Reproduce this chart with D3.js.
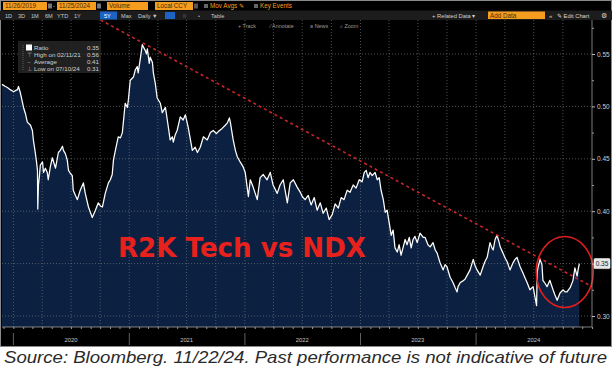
<!DOCTYPE html>
<html><head><meta charset="utf-8">
<script src="https://cdn.jsdelivr.net/npm/d3@7"></script>
<style>html,body{margin:0;padding:0;background:#fff;overflow:hidden}svg{display:block}</style>
</head><body>
<script>
// ---------- data ----------
const dates = [
"2019-11-26","2019-12-07","2019-12-13","2019-12-22","2020-01-02","2020-01-07","2020-01-14","2020-01-17","2020-01-23","2020-02-02",
"2020-02-08","2020-02-14","2020-02-24","2020-03-01","2020-03-04","2020-03-10","2020-03-14","2020-03-17","2020-03-18","2020-03-20",
"2020-03-23","2020-03-26","2020-04-02","2020-04-05","2020-04-11","2020-04-17","2020-04-20","2020-04-27","2020-05-03","2020-05-13",
"2020-05-22","2020-05-28","2020-06-04","2020-06-07","2020-06-13","2020-06-19","2020-06-23","2020-06-29","2020-07-05","2020-07-08",
"2020-07-15","2020-07-21","2020-07-30","2020-08-09","2020-08-15","2020-08-25","2020-08-31","2020-09-06","2020-09-16","2020-09-25",
"2020-10-02","2020-10-08","2020-10-17","2020-10-27","2020-11-02","2020-11-08","2020-11-12","2020-11-18","2020-11-27","2020-12-04",
"2020-12-10","2020-12-19","2020-12-26","2020-12-29","2021-01-04","2021-01-14","2021-01-20","2021-01-26","2021-01-29","2021-02-05",
"2021-02-11","2021-02-14","2021-02-21","2021-02-24","2021-02-27","2021-03-05","2021-03-08","2021-03-15","2021-03-18","2021-03-24",
"2021-03-30","2021-04-09","2021-04-15","2021-04-25","2021-05-01","2021-05-10","2021-05-17","2021-05-20","2021-05-26","2021-06-01",
"2021-06-11","2021-06-20","2021-06-27","2021-07-06","2021-07-13","2021-07-19","2021-07-28","2021-08-04","2021-08-13","2021-08-23",
"2021-09-04","2021-09-14","2021-09-23","2021-10-03","2021-10-09","2021-10-21","2021-10-31","2021-11-06","2021-11-13","2021-11-16",
"2021-11-25","2021-12-02","2021-12-08","2021-12-17","2021-12-27","2022-01-02","2022-01-12","2022-01-18","2022-01-27","2022-02-09",
"2022-02-18","2022-02-28","2022-03-12","2022-03-22","2022-03-31","2022-04-13","2022-04-22","2022-05-02","2022-05-15","2022-05-24",
"2022-06-03","2022-06-15","2022-06-25","2022-07-01","2022-07-10","2022-07-20","2022-07-29","2022-08-08","2022-08-17","2022-08-27",
"2022-09-05","2022-09-15","2022-09-24","2022-10-04","2022-10-13","2022-10-23","2022-11-01","2022-11-10","2022-11-20","2022-11-29",
"2022-12-09","2022-12-18","2022-12-28","2023-01-06","2023-01-13","2023-01-19","2023-01-25","2023-01-31","2023-02-07","2023-02-16",
"2023-02-23","2023-03-01","2023-03-07","2023-03-14","2023-03-20","2023-03-26","2023-04-01","2023-04-08","2023-04-14","2023-04-20",
"2023-04-27","2023-05-03","2023-05-09","2023-05-16","2023-05-22","2023-05-28","2023-06-04","2023-06-10","2023-06-16","2023-06-22",
"2023-06-29","2023-07-08","2023-07-18","2023-07-24","2023-08-02","2023-08-09","2023-08-18","2023-08-25","2023-08-31","2023-09-09",
"2023-09-19","2023-09-25","2023-10-01","2023-10-11","2023-10-20","2023-10-27","2023-11-02","2023-11-05","2023-11-12","2023-11-18",
"2023-11-27","2023-12-04","2023-12-13","2023-12-23","2023-12-29","2024-01-04","2024-01-14","2024-01-23","2024-01-29","2024-02-05",
"2024-02-14","2024-02-20","2024-02-24","2024-03-01","2024-03-07","2024-03-14","2024-03-17","2024-03-26","2024-04-02","2024-04-08",
"2024-04-17","2024-04-27","2024-05-03","2024-05-09","2024-05-19","2024-05-28","2024-06-04","2024-06-10","2024-06-19","2024-06-29",
"2024-07-05","2024-07-10","2024-07-12","2024-07-15","2024-07-21","2024-07-27","2024-07-30","2024-08-06","2024-08-12","2024-08-21",
"2024-08-31","2024-09-06","2024-09-13","2024-09-22","2024-10-02","2024-10-08","2024-10-14","2024-10-24","2024-11-02","2024-11-08",
"2024-11-15","2024-11-18","2024-11-22"];
const ratio = [
0.521,0.519,0.518,0.516,0.514,0.515,0.516,0.519,0.513,0.499,
0.493,0.485,0.482,0.477,0.468,0.456,0.447,0.439,0.402,0.425,
0.433,0.444,0.447,0.437,0.441,0.437,0.430,0.443,0.451,0.441,
0.456,0.458,0.462,0.458,0.455,0.449,0.439,0.436,0.434,0.420,
0.415,0.411,0.420,0.427,0.417,0.404,0.399,0.394,0.401,0.408,
0.405,0.404,0.417,0.427,0.430,0.435,0.449,0.458,0.471,0.470,
0.475,0.503,0.499,0.506,0.525,0.528,0.535,0.538,0.532,0.546,
0.559,0.557,0.553,0.550,0.555,0.541,0.547,0.542,0.532,0.522,
0.508,0.503,0.494,0.499,0.487,0.468,0.471,0.466,0.473,0.477,
0.490,0.487,0.492,0.480,0.468,0.458,0.461,0.456,0.461,0.471,
0.468,0.475,0.477,0.474,0.476,0.479,0.482,0.484,0.489,0.485,
0.468,0.458,0.452,0.447,0.442,0.437,0.414,0.430,0.423,0.411,
0.432,0.435,0.430,0.437,0.425,0.417,0.425,0.430,0.408,0.427,
0.430,0.423,0.418,0.414,0.411,0.415,0.406,0.413,0.401,0.408,
0.398,0.403,0.392,0.397,0.407,0.403,0.413,0.411,0.420,0.418,
0.425,0.422,0.430,0.428,0.437,0.439,0.432,0.437,0.434,0.437,
0.430,0.432,0.420,0.411,0.399,0.401,0.390,0.377,0.382,0.365,
0.361,0.368,0.358,0.366,0.373,0.368,0.375,0.365,0.373,0.376,
0.370,0.379,0.375,0.375,0.368,0.366,0.370,0.363,0.360,0.351,
0.344,0.349,0.347,0.337,0.332,0.327,0.323,0.328,0.332,0.333,
0.335,0.339,0.344,0.354,0.348,0.344,0.339,0.347,0.352,0.356,
0.370,0.365,0.363,0.373,0.377,0.370,0.366,0.360,0.355,0.352,
0.344,0.351,0.354,0.356,0.347,0.341,0.336,0.332,0.325,0.328,
0.318,0.310,0.342,0.347,0.354,0.349,0.334,0.331,0.328,0.334,
0.325,0.320,0.315,0.322,0.325,0.323,0.323,0.327,0.334,0.346,
0.338,0.344,0.350];
const yTicks = [0.30, 0.35, 0.40, 0.45, 0.50, 0.55];
const yMinorTicks = [0.325, 0.375, 0.425, 0.475, 0.525, 0.575];
const yearLabels = ["2020", "2021", "2022", "2023", "2024"];
const legendLabels = ["Ratio", "High on 02/11/21", "Average", "Low on 07/10/24"];
const legendValues = ["0.35", "0.56", "0.41", "0.31"];
const trendDates = ["2020-10-02", "2025-01-01"];
const trendValues = [0.5825, 0.328];
const circleDate = "2024-10-07";
const circleValue = 0.342;
const titleText = "R2K Tech vs NDX";
const sourceText = "Source: Bloomberg. 11/22/24. Past performance is not indicative of future";
const domainDates = ["2019-11-26", "2025-01-01"];

// ---------- setup ----------
const W = 612, H = 368;
const parse = d3.timeParse("%Y-%m-%d");
const data = dates.map((d, i) => ({date: parse(d), value: ratio[i]}));
const plotL = 2, plotR = 592, plotT = 20, plotB = 327;
const x = d3.scaleTime().domain(domainDates.map(parse)).range([plotL, plotR]);
const y = d3.scaleLinear().domain([0.30, 0.55]).range([316, 54]);
const last = data[data.length - 1];

const svg = d3.select("body").append("svg").attr("width", W).attr("height", H)
  .style("font-family", "'Liberation Sans', Arial, sans-serif");
svg.append("rect").attr("width", W).attr("height", H).attr("fill", "#fff");
svg.append("rect").attr("width", W).attr("height", 346).attr("fill", "#000");

// area
svg.append("path").datum(data).attr("fill", "#0c2141")
  .attr("d", d3.area().x(d => x(d.date)).y0(plotB).y1(d => y(d.value)));

// gridlines
const grid = svg.append("g").attr("stroke", "#74777d").attr("stroke-width", 0.8)
  .attr("stroke-dasharray", "1,2").attr("opacity", 0.85);
grid.selectAll("line.h").data(yTicks).join("line")
  .attr("x1", plotL).attr("x2", plotR).attr("y1", d => y(d)).attr("y2", d => y(d));
const quarters = d3.timeMonth.every(3).range(parse("2020-01-01"), parse("2025-01-01"));
grid.selectAll("line.v").data(quarters).join("line")
  .attr("x1", d => x(d)).attr("x2", d => x(d)).attr("y1", plotT).attr("y2", plotB);

// line
svg.append("path").datum(data).attr("fill", "none").attr("stroke", "#fff")
  .attr("stroke-width", 1.25).attr("stroke-linejoin", "round")
  .attr("d", d3.line().x(d => x(d.date)).y(d => y(d.value)));

// trend line
const trend = trendDates.map((d, i) => ({date: parse(d), value: trendValues[i]}));
svg.append("path").datum(trend).attr("fill", "none").attr("stroke", "#c9262c")
  .attr("stroke-width", 1.6).attr("stroke-dasharray", "3,3")
  .attr("d", d3.line().x(d => x(d.date)).y(d => y(d.value)));

// circle annotation
svg.append("ellipse").attr("cx", x(parse(circleDate))).attr("cy", y(circleValue))
  .attr("rx", 28.5).attr("ry", 35.5).attr("fill", "none")
  .attr("stroke", "#e01e1e").attr("stroke-width", 1.6);

// title
svg.append("text").attr("x", 118).attr("y", 257).text(titleText)
  .attr("font-family", "'DejaVu Sans', Verdana, sans-serif").attr("font-weight", "bold")
  .attr("font-size", 26).attr("fill", "#e8211d")
  .attr("textLength", 248).attr("lengthAdjust", "spacingAndGlyphs");

// right axis
svg.append("line").attr("x1", plotR).attr("x2", plotR).attr("y1", plotT).attr("y2", plotB)
  .attr("stroke", "#9a9a9a").attr("stroke-width", 0.8);
const ya = svg.append("g").attr("transform", `translate(${plotR},0)`)
  .call(d3.axisRight(y).tickValues(yTicks).tickFormat(d3.format(".2f")).tickSize(3).tickPadding(2));
ya.select(".domain").remove();
ya.selectAll("line").attr("stroke", "#bbb");
ya.selectAll("text").attr("fill", "#cfcfcf").attr("font-size", 6.5)
  .attr("font-family", "'Liberation Sans', Arial, sans-serif");
// the last-value flag takes the place of a tick label that it would cover
ya.selectAll(".tick").filter(d => Math.abs(y(d) - y(last.value)) < 8).select("text").remove();
const ym = svg.append("g").attr("transform", `translate(${plotR},0)`)
  .call(d3.axisRight(y).tickValues(yMinorTicks.filter(v => y(v) > plotT)).tickFormat("").tickSize(2));
ym.select(".domain").remove();
ym.selectAll("line").attr("stroke", "#999");

// last value label
const lv = svg.append("g").attr("transform", `translate(${plotR + 2},${y(last.value)})`);
lv.append("rect").attr("x", 0).attr("y", -5).attr("width", 16).attr("height", 10)
  .attr("fill", "#e6e6e6").attr("stroke", "#fff").attr("stroke-width", 0.6).attr("rx", 1);
lv.append("text").attr("x", 8).attr("y", 2.3).attr("text-anchor", "middle")
  .attr("font-size", 6.5).attr("fill", "#222").text(d3.format(".2f")(last.value));

// bottom axis
svg.append("line").attr("x1", plotL).attr("x2", plotR).attr("y1", plotB).attr("y2", plotB)
  .attr("stroke", "#a0a0a0").attr("stroke-width", 0.8);
const xa = svg.append("g").attr("transform", `translate(0,${plotB})`)
  .call(d3.axisBottom(x).ticks(d3.timeMonth.every(1)).tickFormat("").tickSize(2));
xa.select(".domain").remove();
xa.selectAll("line").attr("stroke", "#999");
const years = yearLabels.map(s => parse(s + "-01-01"));
svg.selectAll("line.yr").data(years).join("line")
  .attr("x1", d => x(d)).attr("x2", d => x(d)).attr("y1", 333).attr("y2", 345)
  .attr("stroke", "#7a7a7a").attr("stroke-width", 0.8);
svg.selectAll("text.yr").data(yearLabels).join("text")
  .attr("x", d => x(parse(d + "-07-01"))).attr("y", 342).attr("text-anchor", "middle")
  .attr("font-size", 5.8).attr("fill", "#c8c8c8").text(d => d);

// border
svg.append("rect").attr("x", 0.5).attr("y", 0.5).attr("width", W - 1).attr("height", 346)
  .attr("fill", "none").attr("stroke", "#8a8a8a").attr("stroke-width", 1);

// legend
const lg = svg.append("g");
lg.append("rect").attr("x", 18).attr("y", 41).attr("width", 83).attr("height", 32)
  .attr("fill", "#262626").attr("opacity", 0.85);
lg.append("line").attr("x1", 23).attr("x2", 23).attr("y1", 45).attr("y2", 71)
  .attr("stroke", "#888").attr("stroke-dasharray", "1,1").attr("stroke-width", 0.6);
lg.append("rect").attr("x", 26).attr("y", 44.5).attr("width", 6).attr("height", 6).attr("fill", "#fff");
const icons = ["", "⊤", "–", "⊥"];
legendLabels.forEach((l, i) => {
  const yy = 50.3 + i * 7;
  if (i > 0) lg.append("text").attr("x", 29).attr("y", yy).attr("text-anchor", "middle")
    .attr("font-size", 5.5).attr("fill", "#aaa").text(icons[i]);
  lg.append("text").attr("x", 34).attr("y", yy).attr("font-size", 6.2).attr("fill", "#d0d0d0").text(l);
  lg.append("text").attr("x", 99).attr("y", yy).attr("text-anchor", "end")
    .attr("font-size", 6.2).attr("fill", "#d0d0d0").text(legendValues[i]);
});

// ---------- toolbar ----------
const tb = svg.append("g").attr("font-size", 6.3);
tb.append("rect").attr("x", 0).attr("y", 10.5).attr("width", W).attr("height", 9.5).attr("fill", "#1c1c1c");
const orange = "#f59d1f";
function obox(x0, w, label, yy = 2, h = 8) {
  tb.append("rect").attr("x", x0).attr("y", yy).attr("width", w).attr("height", h).attr("fill", orange);
  tb.append("text").attr("x", x0 + 2).attr("y", yy + 6.4).attr("fill", "#4a2c00").text(label);
}
obox(3, 44, "11/26/2019");
tb.append("rect").attr("x", 48).attr("y", 3.5).attr("width", 4).attr("height", 5).attr("fill", "#777");
tb.append("text").attr("x", 53).attr("y", 8.4).attr("fill", "#aaa").text("-");
obox(57, 39, "11/25/2024");
tb.append("rect").attr("x", 97).attr("y", 3.5).attr("width", 4).attr("height", 5).attr("fill", "#777");
obox(107, 41, "Volume");
obox(155, 38, "Local CCY");
tb.append("rect").attr("x", 194).attr("y", 3.5).attr("width", 4).attr("height", 5).attr("fill", "#555");
tb.append("rect").attr("x", 204).attr("y", 4).attr("width", 4).attr("height", 4).attr("fill", "#666");
tb.append("text").attr("x", 210).attr("y", 8.4).attr("fill", orange).text("Mov Avgs ✎");
tb.append("rect").attr("x", 254).attr("y", 4).attr("width", 4).attr("height", 4).attr("fill", "#666");
tb.append("text").attr("x", 260).attr("y", 8.4).attr("fill", orange).text("Key Events");

const periods = [["1D", 5], ["3D", 18], ["1M", 31], ["6M", 45], ["YTD", 57], ["1Y", 74], ["5Y", 104], ["Max", 121], ["Daily ▼", 138]];
tb.append("rect").attr("x", 100).attr("y", 11.5).attr("width", 17).attr("height", 8).attr("fill", "#1d63c4");
periods.forEach(([t, px]) => tb.append("text").attr("x", px).attr("y", 17.6)
  .attr("font-size", 5.6).attr("fill", t === "5Y" ? "#fff" : "#c8c8c8").text(t));
tb.append("rect").attr("x", 165).attr("y", 12).attr("width", 10).attr("height", 7).attr("fill", "#1d63c4");
tb.append("text").attr("x", 183).attr("y", 17.6).attr("font-size", 5.6).attr("fill", "#aaa").text("⁞⁞");
tb.append("text").attr("x", 198).attr("y", 17.6).attr("font-size", 5.6).attr("fill", "#aaa").text("•");
tb.append("text").attr("x", 211).attr("y", 17.6).attr("font-size", 5.6).attr("fill", "#c8c8c8").text("Table");

tb.append("text").attr("x", 432).attr("y", 17.6).attr("font-size", 5.8).attr("fill", "#d0d0d0").text("+ Related Data ▾");
obox(488, 57, "Add Data", 11.5, 7.5);
tb.append("text").attr("x", 549).attr("y", 17.6).attr("font-size", 6).attr("fill", "#ccc").text("«");
tb.append("text").attr("x", 557).attr("y", 17.6).attr("font-size", 5.8).attr("fill", "#d8d8d8").text("✎ Edit Chart");
tb.append("text").attr("x", 601).attr("y", 17.8).attr("font-size", 6.5).attr("fill", "#d8d8d8").text("⚙");

[["+ Track", 238], ["⁄ Annotate", 270], ["≡ News", 310], ["⌕ Zoom", 340]].forEach(([t, px]) =>
  tb.append("text").attr("x", px).attr("y", 27.5).attr("font-size", 5.4).attr("fill", "#9a9a9a").text(t));

// source
svg.append("text").attr("x", 4).attr("y", 363).text(sourceText)
  .attr("font-style", "italic").attr("font-size", 17).attr("fill", "#2a2a2a")
  .attr("textLength", 603).attr("lengthAdjust", "spacingAndGlyphs");
</script>
</body></html>
